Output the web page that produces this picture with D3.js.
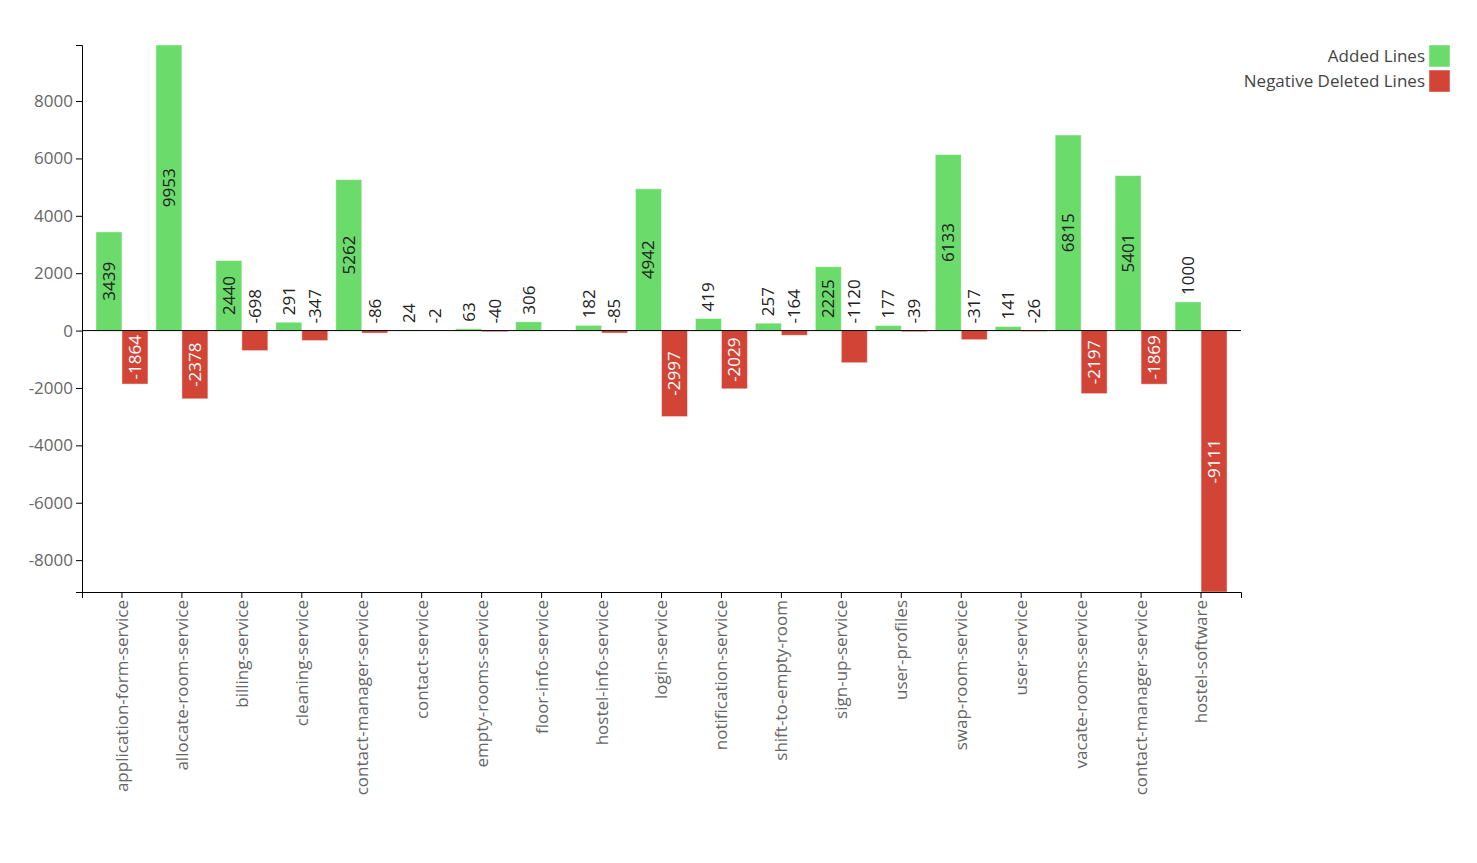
<!DOCTYPE html>
<html lang="en">

<head>
    <meta charset="UTF-8">
    <title>Added / Deleted Lines</title>
    <script src="https://d3js.org/d3.v7.min.js"></script>
    <style>
        body,
        html {
            margin: 0;
            padding: 0;
            background: #fff;
            overflow: hidden;
        }

        svg text {
            font-family: "Segoe UI", "Open Sans", sans-serif;
        }
    </style>
</head>

<body>
    <div id="chart"></div>

    <script>
        // data
        const categories = [
            "application-form-service", "allocate-room-service", "billing-service",
            "cleaning-service", "contact-manager-service", "contact-service",
            "empty-rooms-service", "floor-info-service", "hostel-info-service",
            "login-service", "notification-service", "shift-to-empty-room",
            "sign-up-service", "user-profiles", "swap-room-service", "user-service",
            "vacate-rooms-service", "contact-manager-service", "hostel-software"
        ];
        const addedLines = [3439, 9953, 2440, 291, 5262, 24, 63, 306, 182, 4942,
            419, 257, 2225, 177, 6133, 141, 6815, 5401, 1000];
        const deletedLines = [-1864, -2378, -698, -347, -86, -2, -40, 0, -85, -2997,
            -2029, -164, -1120, -39, -317, -26, -2197, -1869, -9111];
        const seriesKeys = ["added", "deleted"];
        const seriesNames = ["Added Lines", "Negative Deleted Lines"];

        const colors = { added: "#6bdb6b", deleted: "#d24536" };

        const width = 1477, height = 863;
        const margin = { top: 45, right: 236, bottom: 271, left: 82 };

        const svg = d3.select("#chart").append("svg")
            .attr("width", width)
            .attr("height", height);

        const rows = categories.map((c, i) => ({ i: i, name: c, added: addedLines[i], deleted: deletedLines[i] }));

        const x0 = d3.scaleBand()
            .domain(rows.map(d => d.i))
            .range([margin.left, width - margin.right])
            .paddingInner(0.133)
            .paddingOuter(0.233);

        const x1 = d3.scaleBand()
            .domain(seriesKeys)
            .range([0, x0.bandwidth()]);

        const y = d3.scaleLinear()
            .domain([d3.min(deletedLines), d3.max(addedLines)])
            .range([height - margin.bottom, margin.top]);

        // bars
        const groups = svg.append("g")
            .selectAll("g")
            .data(rows)
            .join("g")
            .attr("transform", d => `translate(${x0(d.i)},0)`);

        const cells = groups.selectAll("g")
            .data(d => seriesKeys.map(k => ({ key: k, value: d[k] })))
            .join("g");

        cells.append("rect")
            .attr("x", d => x1(d.key))
            .attr("width", x1.bandwidth())
            .attr("y", d => y(Math.max(0, d.value)))
            .attr("height", d => Math.abs(y(d.value) - y(0)))
            .attr("fill", d => colors[d.key])
            .attr("stroke", "#fff")
            .attr("stroke-opacity", 0.45)
            .attr("stroke-width", 1);

        // value labels, inside the bar when it is long enough
        cells.filter(d => d.value !== 0)
            .append("text")
            .text(d => String(d.value))
            .style("font-size", "17px")
            .attr("dy", "0.35em")
            .each(function (d) {
                const t = d3.select(this);
                const len = this.getComputedTextLength();
                const h = Math.abs(y(d.value) - y(0));
                const cx = x1(d.key) + x1.bandwidth() / 2;
                if (h > len + 6) {
                    const cy = (y(d.value) + y(0)) / 2;
                    t.attr("transform", `translate(${cx},${cy}) rotate(-90)`)
                        .attr("text-anchor", "middle")
                        .attr("fill", d.key === "added" ? "#222" : "#fff");
                } else {
                    const top = y(Math.max(0, d.value)) - 7;
                    t.attr("transform", `translate(${cx},${top}) rotate(-90)`)
                        .attr("text-anchor", "start")
                        .attr("fill", "#222");
                }
            });

        // axes
        const xAxis = svg.append("g")
            .attr("transform", `translate(0,${height - margin.bottom})`)
            .call(d3.axisBottom(x0).tickFormat(i => categories[i]));

        xAxis.selectAll("text")
            .attr("y", 0)
            .attr("x", -8)
            .attr("dy", "0.35em")
            .attr("transform", "rotate(-90)")
            .style("text-anchor", "end")
            .style("font-size", "17px")
            .attr("fill", "#666");

        const yAxis = svg.append("g")
            .attr("transform", `translate(${margin.left},0)`)
            .call(d3.axisLeft(y).tickFormat(d => String(d)));

        yAxis.selectAll("text")
            .style("font-size", "17px")
            .attr("fill", "#666");

        // zero line
        svg.append("line")
            .attr("x1", margin.left)
            .attr("x2", width - margin.right)
            .attr("y1", y(0))
            .attr("y2", y(0))
            .attr("stroke", "#000");

        // legend
        const legend = svg.append("g")
            .selectAll("g")
            .data(seriesKeys)
            .join("g")
            .attr("transform", (d, i) => `translate(1429,${45 + i * 25})`);

        legend.append("rect")
            .attr("width", 21)
            .attr("height", 22)
            .attr("fill", d => colors[d])
            .attr("stroke", "#fff")
            .attr("stroke-opacity", 0.45);

        legend.append("text")
            .attr("x", -4)
            .attr("y", 11)
            .attr("dy", "0.35em")
            .attr("text-anchor", "end")
            .style("font-size", "17px")
            .attr("fill", "#444")
            .text((d, i) => seriesNames[i]);
    </script>
</body>

</html>
